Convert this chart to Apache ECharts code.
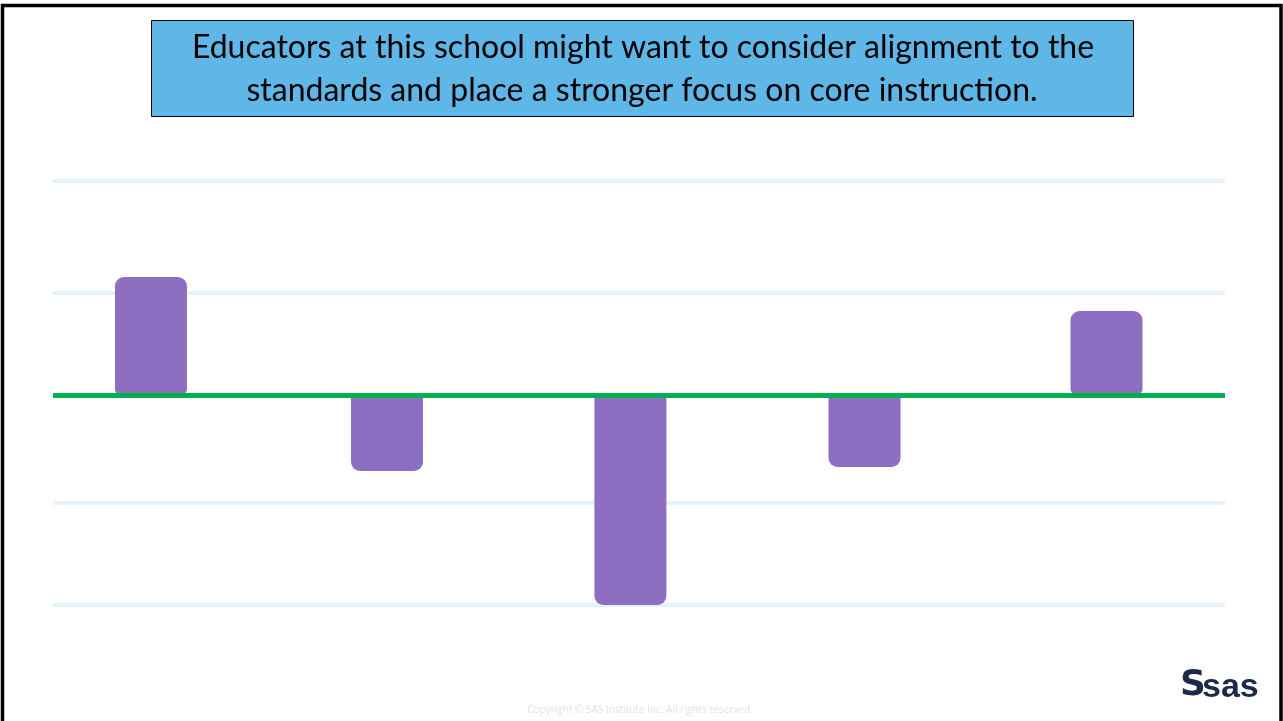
<!DOCTYPE html>
<html>
<head>
<meta charset="utf-8">
<script src="https://cdn.jsdelivr.net/npm/echarts@6/dist/echarts.min.js"></script>
<style>
html,body{margin:0;padding:0;background:#fff;}
#chart{width:1283px;height:721px;}
</style>
</head>
<body>
<div id="chart"></div>
<script>
// Data (units: one gridline step ≈ 1)
const categories = ['A', 'B', 'C', 'D', 'E'];
const categoryPos = [0, 0.988, 2.007, 2.987, 4];
const barValues = [1.113, -0.717, -1.981, -0.679, 0.792];
const gridLineValues = [2.019, 0.962, -1.019, -1.981];
const baselineValue = 0;
const titleLines = ['Educators at this school might want to consider alignment to the', 'standards and place a stronger focus on core instruction.'];
const copyrightText = 'Copyright \u00a9 SAS Institute Inc. All rights reserved.';

const chart = echarts.init(document.getElementById('chart'), null, {renderer: 'canvas'});

const barData = barValues.map((v, i) => ({
  value: [categoryPos[i], v],
  name: categories[i],
  itemStyle: { borderRadius: v >= 0 ? [9, 9, 6, 6] : [0, 0, 9, 9] }
}));

const option = {
  animation: false,
  backgroundColor: '#ffffff',
  grid: { left: 53, right: 58, top: 172.4, bottom: 103.4 },
  xAxis: {
    type: 'value', min: -0.41, max: 4.496,
    axisLine: { show: false }, axisTick: { show: false },
    axisLabel: { show: false }, splitLine: { show: false }
  },
  yAxis: {
    type: 'value', min: -2.1, max: 2.1,
    axisLine: { show: false }, axisTick: { show: false },
    axisLabel: { show: false }, splitLine: { show: false }
  },
  series: [
    {
      type: 'line', data: [], z: 1, silent: true,
      markLine: {
        z: 1,
        silent: true, symbol: 'none', animation: false,
        label: { show: false },
        lineStyle: { color: '#e4f2fb', width: 4, type: 'solid' },
        data: gridLineValues.map(v => ({ yAxis: v }))
      }
    },
    {
      type: 'bar', data: barData, barWidth: 72, z: 10,
      itemStyle: { color: '#8e6ec0' }
    },
    {
      type: 'line', data: [], z: 20, silent: true,
      markLine: {
        z: 20,
        silent: true, symbol: 'none', animation: false,
        label: { show: false },
        lineStyle: { color: '#00b050', width: 5, type: 'solid' },
        data: [{ yAxis: baselineValue }]
      }
    }
  ],
  graphic: [
    { type: 'rect', shape: { x: 2.5, y: 5.5, width: 1278.5, height: 730 }, style: { fill: 'none', stroke: '#000', lineWidth: 3.5 }, z: 100 },
    { type: 'rect', shape: { x: 151.5, y: 20.5, width: 982, height: 96 }, style: { fill: '#5fb7e7', stroke: '#000', lineWidth: 1 }, z: 10 },
    { type: 'text', x: 643, y: 48, style: { text: titleLines[0], font: '32px Lato', fill: '#000', align: 'center', verticalAlign: 'middle' }, z: 11 },
    { type: 'text', x: 642, y: 91, style: { text: titleLines[1], font: '32px Lato', fill: '#000', align: 'center', verticalAlign: 'middle' }, z: 11 },
    { type: 'text', x: 640, y: 710, style: { text: copyrightText, font: '10px "Open Sans"', fill: '#e2e2e2', align: 'center', verticalAlign: 'middle' }, z: 11 },
    { type: 'text', x: 1180, y: 686, style: { text: 'S', font: 'bold 36px "DejaVu Sans"', fill: '#1c2a48', align: 'left', verticalAlign: 'middle' }, z: 11 },
    { type: 'text', x: 1202, y: 688, style: { text: 'sas', font: 'bold 34px "Liberation Sans"', fill: '#1c2a48', align: 'left', verticalAlign: 'middle' }, z: 11 }
  ]
};
chart.setOption(option);
</script>
</body>
</html>
